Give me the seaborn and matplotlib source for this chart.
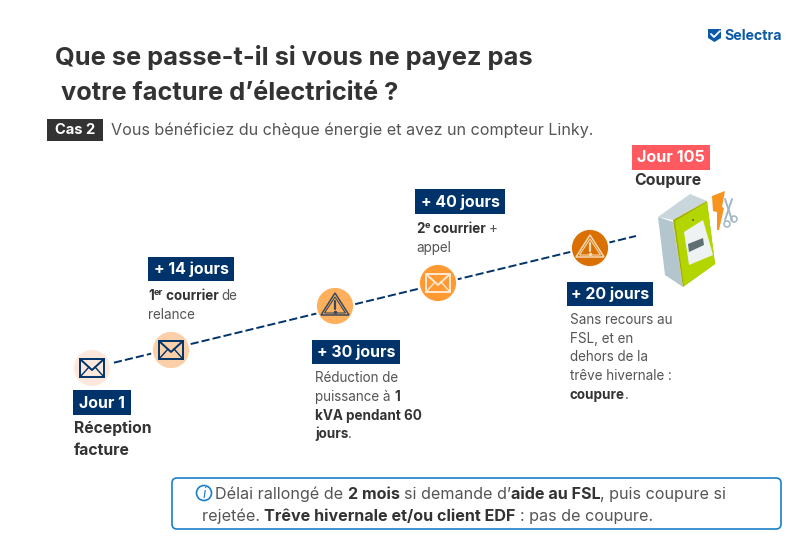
import matplotlib
matplotlib.use("Agg")
import matplotlib.pyplot as plt
from matplotlib.patches import Rectangle, Polygon, Circle, FancyBboxPatch
import seaborn as sns
import pandas as pd

sns.set_theme(style="white")
plt.rcParams['font.family'] = ['Inter', 'DejaVu Sans']

NAVY = "#00336a"
DARK = "#333333"
GREY = "#555555"

# timeline stages
stage_labels = ["Jour 1", "+ 14 jours", "+ 30 jours", "+ 40 jours", "+ 20 jours"]
stage_x = [92, 171, 335, 438, 590]
stage_y = [368, 350, 306, 283, 248]
stage_colors = ["#fde9db", "#fbcfa8", "#ffb05f", "#ff9a33", "#d97000"]
line_x = [92, 636]
line_y = [368, 236]
icons = ["mail", "mail", "warn", "mail", "warn"]
icon_colors = [NAVY, NAVY, "#3a4a5a", "#ffe9d2", "#f7d9b5"]

title_lines = ["Que se passe-t-il si vous ne payez pas", " votre facture d’électricité ?"]
case_label = "Cas 2"
case_text = "Vous bénéficiez du chèque énergie et avez un compteur Linky."

fig = plt.figure(figsize=(8, 5.47), dpi=100)
ax = fig.add_axes([0, 0, 1, 1])
ax.set_xlim(0, 800)
ax.set_ylim(547, 0)
ax.axis("off")


def runs(x, y, parts, size, color=GREY):
    # draws a line made of regular / bold / superscript pieces one after the other
    r = fig.canvas.get_renderer()
    for p in parts:
        txt, bold, sup = (p + (False, False))[:3] if isinstance(p, tuple) else (p, False, False)
        t = ax.text(x, y - (size * 0.55 if sup else 0), txt, fontsize=size * 0.68 if sup else size,
                    fontweight="bold" if bold else "normal", color=DARK if bold else color,
                    va="baseline", ha="left")
        x += t.get_window_extent(r).width
    return x


def label_box(x0, y0, x1, y1, txt, color=NAVY, size=11.4):
    ax.add_patch(Rectangle((x0, y0), x1 - x0, y1 - y0, fc=color, ec="none", zorder=3))
    ax.text((x0 + x1) / 2, (y0 + y1) / 2 + 0.5, txt, color="white", fontsize=size, fontweight="bold",
            ha="center", va="center", zorder=4)


def mail_icon(cx, cy, c):
    w, h = 12, 9
    ax.add_patch(Rectangle((cx - w, cy - h), 2 * w, 2 * h, fc="none", ec=c, lw=1.4, zorder=5))
    ax.plot([cx - w, cx, cx + w], [cy - h, cy + 2, cy - h], color=c, lw=1.4, zorder=5)
    ax.plot([cx - w, cx - 3], [cy + h, cy - 1], color=c, lw=1.0, zorder=5)
    ax.plot([cx + w, cx + 3], [cy + h, cy - 1], color=c, lw=1.0, zorder=5)


def warn_icon(cx, cy, c):
    ax.add_patch(Polygon([(cx, cy - 13), (cx + 14, cy + 9), (cx - 14, cy + 9)], closed=True,
                         fc="none", ec=c, lw=1.1, zorder=5))
    ax.add_patch(Polygon([(cx, cy - 9), (cx + 10.5, cy + 7), (cx - 10.5, cy + 7)], closed=True,
                         fc="none", ec=c, lw=0.8, zorder=5))
    ax.plot([cx, cx], [cy - 5, cy + 3], color=c, lw=1.6, zorder=5)
    ax.plot([cx], [cy + 5.5], marker="o", ms=1.6, color=c, zorder=5)


# title and subtitle
ax.text(55, 65, title_lines[0], fontsize=18.3, fontweight="bold", color=DARK, va="baseline")
ax.text(55, 100, title_lines[1], fontsize=18.3, fontweight="bold", color=DARK, va="baseline")
label_box(47, 119, 103, 141, case_label, color=DARK, size=10.6)
ax.text(111, 135, case_text, fontsize=11.6, color=GREY, va="baseline")

# logo
ax.add_patch(Polygon([(708, 29), (721, 29), (721, 38), (714.5, 42), (708, 38)], closed=True, fc="#0b5aa5", ec="none"))
ax.plot([711, 714, 720], [34, 37, 31], color="white", lw=1.3)
ax.text(724, 40, "Selectra", fontsize=10.2, fontweight="bold", color="#0b5aa5", va="baseline")

# dashed line and the nodes
sns.lineplot(x=line_x, y=line_y, ax=ax, color=NAVY, lw=1.4, linestyle=(0, (4.2, 1.6)), zorder=1)
nodes = pd.DataFrame({"x": stage_x, "y": stage_y, "stage": stage_labels})
sns.scatterplot(data=nodes, x="x", y="y", hue="stage", palette=stage_colors, s=760, linewidth=1.5,
                edgecolor="white", legend=False, ax=ax, zorder=2)
ax.set_xlim(0, 800)
ax.set_ylim(547, 0)
ax.axis("off")
for x, y, kind, c in zip(stage_x, stage_y, icons, icon_colors):
    if kind == "mail":
        mail_icon(x, y, c)
    else:
        warn_icon(x, y, c)

# stage labels
label_box(73, 390, 131, 415, stage_labels[0])
ax.text(74, 433, "Réception", fontsize=11.3, fontweight="bold", color=DARK)
ax.text(74, 455, "facture", fontsize=11.3, fontweight="bold", color=DARK)

label_box(148, 257, 234, 281, stage_labels[1])
runs(148, 300, [("1", True), ("er", True, True), (" courrier ", True), "de"], 9.7)
ax.text(148, 319, "relance", fontsize=9.7, color=GREY)

label_box(312, 340, 400, 364, stage_labels[2])
ax.text(315, 382, "Réduction de", fontsize=9.7, color=GREY)
runs(315, 401, ["puissance à ", ("1", True)], 9.7)
ax.text(315, 420, "kVA pendant 60", fontsize=9.7, fontweight="bold", color=DARK)
runs(315, 438, [("jours", True), "."], 9.7)

label_box(415, 189, 505, 214, stage_labels[3])
runs(416, 233, [("2", True), ("e", True, True), (" courrier ", True), "+"], 9.7)
ax.text(416, 252, "appel", fontsize=9.7, color=GREY)

label_box(567, 282, 653, 306, stage_labels[4])
ax.text(570, 324, "Sans recours au", fontsize=9.7, color=GREY)
ax.text(570, 343, "FSL, et en", fontsize=9.7, color=GREY)
ax.text(570, 361, "dehors de la", fontsize=9.7, color=GREY)
ax.text(570, 380, "trêve hivernale :", fontsize=9.7, color=GREY)
runs(570, 399, [("coupure", True), "."], 9.7)

# cut-off step with the meter
label_box(632, 145, 710, 170, "Jour 105", color="#ff5a5f", size=11.6)
ax.text(634, 185, "Coupure", fontsize=11.4, fontweight="bold", color=DARK)
ax.add_patch(Polygon([(658, 217), (690, 194), (707, 201), (673, 220)], closed=True, fc="#c9d6db", ec="none"))
ax.add_patch(Polygon([(658, 217), (673, 222), (683, 287), (665, 275)], closed=True, fc="#b3c6cd", ec="none"))
ax.add_patch(Polygon([(673, 220), (707, 201), (715, 264), (683, 287)], closed=True, fc="#a3ad00", ec="none"))
ax.add_patch(Polygon([(675, 221), (707, 202), (715, 264), (684, 286)], closed=True, fc="#b4d600", ec="none"))
ax.add_patch(Polygon([(684, 232), (703, 220), (713, 255), (689, 265)], closed=True, fc="#eef2f2", ec="none"))
ax.add_patch(Polygon([(688, 244), (703, 238), (704, 245), (689, 252)], closed=True, fc="#5f6f73", ec="none"))
ax.add_patch(Circle((693, 220), 1, fc="#56606a", ec="none"))
ax.add_patch(Polygon([(712, 196), (725, 191), (722, 207), (724, 208), (719, 230), (717, 230), (717, 212), (713, 211)],
                     closed=True, fc="#f7931e", ec="none"))
ax.plot([732, 725], [199, 220], color="#9fb6c4", lw=1.4)
ax.plot([725, 732], [199, 220], color="#9fb6c4", lw=1.4)
ax.add_patch(Circle((734, 219), 3, fc="none", ec="#9fb6c4", lw=1.1))
ax.add_patch(Circle((727, 224), 3, fc="none", ec="#9fb6c4", lw=1.1))

# info box
ax.add_patch(FancyBboxPatch((176, 482), 601, 43, boxstyle="round,pad=4,rounding_size=5", fc="white",
                            ec="#1a80c8", lw=1.2))
ax.add_patch(Circle((204, 493), 7.5, fc="none", ec="#1a80c8", lw=1.2))
ax.text(204, 497.5, "i", fontsize=10, style="italic", color="#1a80c8", ha="center")
runs(215, 499, ["Délai rallongé de ", ("2 mois ", True), "si demande d’", ("aide au FSL", True),
                ", puis coupure si"], 11.6)
runs(202, 521, ["rejetée. ", ("Trêve hivernale et/ou client EDF ", True), ": pas de coupure."], 11.6)

fig.savefig("out.png", dpi=100)
